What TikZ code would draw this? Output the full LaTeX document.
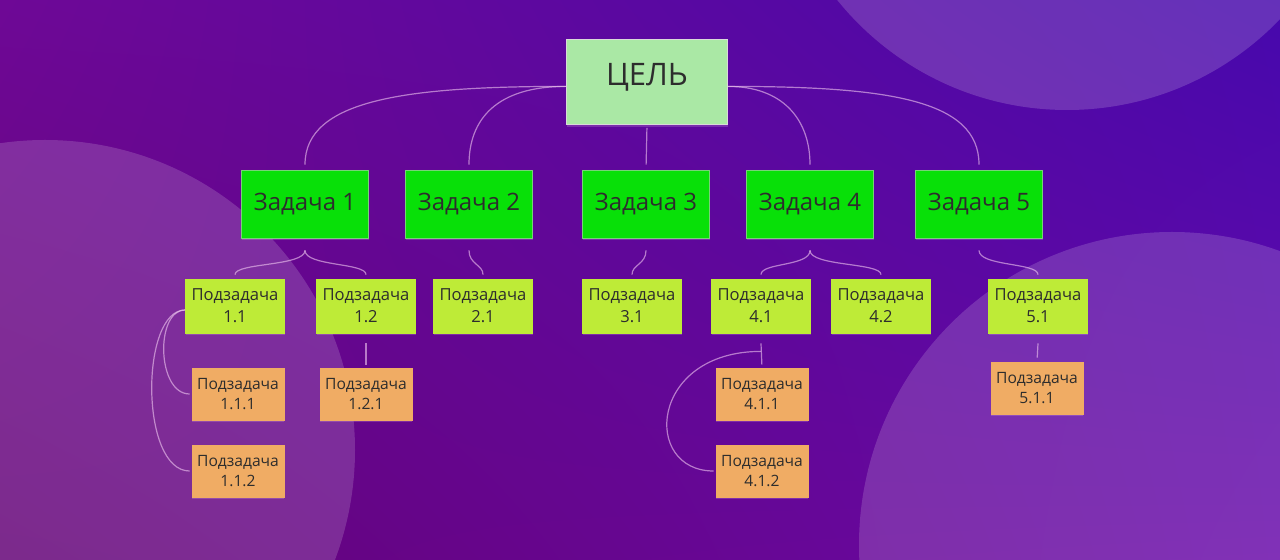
\documentclass[tikz,border=0pt]{standalone}
\usepackage{fontspec}
\setmainfont{Open Sans}
\usepackage{tikz}
\usetikzlibrary{calc,positioning,shadows,shadings}
\definecolor{bgUL}{RGB}{110,8,150}
\definecolor{bgUR}{RGB}{70,8,172}
\definecolor{bgLL}{RGB}{100,2,118}
\definecolor{bgLR}{RGB}{105,10,170}
\definecolor{goalc}{RGB}{170,232,165}
\definecolor{taskc}{RGB}{8,224,8}
\definecolor{subc}{RGB}{190,235,55}
\definecolor{subsubc}{RGB}{240,172,100}
\definecolor{txtc}{RGB}{45,45,45}
\definecolor{linkc}{RGB}{240,200,240}
\tikzset{card/.style={rectangle,inner sep=1pt,align=center,text=txtc,line width=0.4pt,
    drop shadow={shadow xshift=0pt,shadow yshift=-1.2pt,fill=linkc,opacity=0.2}},
  goalbox/.style={card,fill=goalc,draw=white!70!gray,minimum width=80.5pt,minimum height=42.5pt,
    text height=11pt,text depth=7pt,font=\fontsize{15.5}{18}\selectfont},
  taskbox/.style={card,fill=taskc,draw={rgb,255:red,120;green,210;blue,120},minimum width=63.5pt,
    minimum height=34pt,font=\fontsize{12}{14}\selectfont},
  subbox/.style={card,fill=subc,draw=subc,minimum width=49.5pt,minimum height=27pt,
    font=\fontsize{8.3}{11}\selectfont},
  subsubbox/.style={card,fill=subsubc,draw=subsubc,minimum width=46pt,minimum height=26pt,
    font=\fontsize{7.8}{10}\selectfont},
  link/.style={draw=linkc,line width=0.6pt,opacity=0.6}}
\begin{document}
\begin{tikzpicture}[x=0.5pt,y=-0.5pt]
\shade[upper left=bgUL,upper right=bgUR,lower left=bgLL,lower right=bgLR] (0,0) rectangle (1280,560);
\useasboundingbox (0,0) rectangle (1280,560);
\begin{scope}
\clip (0,0) rectangle (1280,560);
\fill[white,opacity=0.16] (45,450) circle[radius=310];
\fill[white,opacity=0.17] (1067,-185) circle[radius=295];
\fill[white,opacity=0.16] (1172,545) circle[radius=313];
\end{scope}

\node[goalbox] (goal) at (647,82) {ЦЕЛЬ};
\node[taskbox] (t1) at (305,204) {Задача 1};
\node[taskbox] (t2) at (469,204) {Задача 2};
\node[taskbox] (t3) at (646,204) {Задача 3};
\node[taskbox] (t4) at (810,204) {Задача 4};
\node[taskbox] (t5) at (979,204) {Задача 5};

\node[subbox] (n11) at (235,306) {Подзадача\\1.1};
\node[subbox] (n12) at (366,306) {Подзадача\\1.2};
\node[subbox] (n21) at (483,306) {Подзадача\\2.1};
\node[subbox] (n31) at (632,306) {Подзадача\\3.1};
\node[subbox] (n41) at (761,306) {Подзадача\\4.1};
\node[subbox] (n42) at (881,306) {Подзадача\\4.2};
\node[subbox] (n51) at (1038,306) {Подзадача\\5.1};

\node[subsubbox] (n111) at (238,394) {Подзадача\\1.1.1};
\node[subsubbox] (n112) at (238,471) {Подзадача\\1.1.2};
\node[subsubbox] (n121) at (366,394) {Подзадача\\1.2.1};
\node[subsubbox] (n411) at (762,394) {Подзадача\\4.1.1};
\node[subsubbox] (n412) at (762,471) {Подзадача\\4.1.2};
\node[subsubbox] (n511) at (1037,388) {Подзадача\\5.1.1};

% goal to tasks
\draw[link,shorten >=2.5pt] ([yshift=-2.2pt]goal.west) .. controls +(-160,0) and +(0,-70) .. (t1.north);
\draw[link,shorten >=2.5pt] ([yshift=-2.2pt]goal.west) .. controls +(-70,0) and +(0,-50) .. (t2.north);
\draw[link,shorten <=1.5pt,shorten >=2.5pt] (goal.south) -- (t3.north);
\draw[link,shorten >=2.5pt] ([yshift=-2.2pt]goal.east) .. controls +(55,0) and +(0,-50) .. (t4.north);
\draw[link,shorten >=2.5pt] ([yshift=-2.2pt]goal.east) .. controls +(160,0) and +(0,-70) .. (t5.north);

% tasks to subtasks
\draw[link,shorten >=2pt] ([yshift=-6pt]t1.south) .. controls +(0,16) and +(0,-16) .. (n11.north);
\draw[link,shorten >=2pt] ([yshift=-6pt]t1.south) .. controls +(0,16) and +(0,-16) .. (n12.north);
\draw[link,shorten >=2pt] ([yshift=-6pt]t2.south) .. controls +(0,14) and +(0,-14) .. (n21.north);
\draw[link,shorten >=2pt] ([yshift=-6pt]t3.south) .. controls +(0,14) and +(0,-14) .. (n31.north);
\draw[link,shorten >=2pt] ([yshift=-6pt]t4.south) .. controls +(0,16) and +(0,-16) .. (n41.north);
\draw[link,shorten >=2pt] ([yshift=-6pt]t4.south) .. controls +(0,16) and +(0,-16) .. (n42.north);
\draw[link,shorten >=2pt] ([yshift=-6pt]t5.south) .. controls +(0,16) and +(0,-16) .. (n51.north);

% subtasks to sub-subtasks
\draw[link,shorten >=1pt] ([yshift=-2pt]n11.west) .. controls +(-30,0) and +(-35,0) .. (n111.west);
\draw[link,shorten >=1pt] ([yshift=-2pt]n11.west) .. controls +(-45,0) and +(-52,0) .. (n112.west);
\draw[link,shorten >=1.5pt] ([yshift=-5pt]n12.south) -- (n121.north);
\draw[link,shorten >=1.5pt] ([yshift=-5pt]n41.south) -- (n411.north);
\draw[link,shorten >=1pt] ([yshift=-9pt]n41.south) .. controls +(-112,0) and +(-74,0) .. (n412.west);
\draw[link,shorten >=2pt] ([yshift=-5pt]n51.south) -- (n511.north);
\end{tikzpicture}
\end{document}
